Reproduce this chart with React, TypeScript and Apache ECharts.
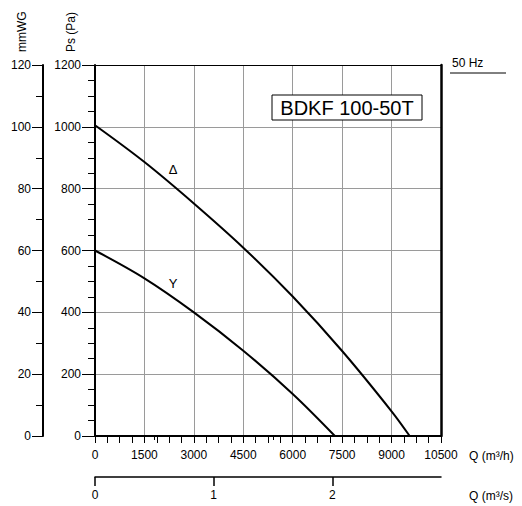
import React, { useEffect, useRef } from "react";
import * as echarts from "echarts";

// Δ (delta) connection curve: Q (m³/h) vs Ps (Pa)
const deltaQ = [0, 1500, 3000, 4500, 6000, 7500, 9000, 9550];
const deltaPs = [1005, 886, 752, 609, 451, 275, 80, 0];
// Y (star) connection curve
const starQ = [0, 1500, 3000, 4500, 6000, 7280];
const starPs = [600, 510, 400, 276, 136, 0];

// Secondary axis (m³/s) tick values
const qsMajor = [0, 1, 2];
const qsMinor = [0.5, 1.5, 2.5];

const FONT = "'Liberation Sans', Arial, Helvetica, sans-serif";

export default function App() {
  const ref = useRef<HTMLDivElement>(null);
  useEffect(() => {
    if (!ref.current) return;
    const chart = echarts.init(ref.current, undefined, { renderer: "svg" });
    const black = "#000";
    const grid = "#9a9a9a";
    const plain = (v: number) => String(v);
    const lbl = { color: black, fontSize: 12, fontFamily: FONT, formatter: plain };
    const option: any = {
      animation: false,
      backgroundColor: "#fff",
      grid: { left: 95, right: 81, top: 65, bottom: 70 },
      xAxis: [
        {
          type: "value",
          min: 0,
          max: 10500,
          interval: 1500,
          position: "bottom",
          axisLine: { show: true, onZero: false, lineStyle: { color: black, width: 2 } },
          axisTick: { show: true, length: 7, lineStyle: { color: black, width: 1 } },
          minorTick: { show: true, splitNumber: 4, length: 7, lineStyle: { color: black, width: 1 } },
          axisLabel: { ...lbl, margin: 13 },
          splitLine: { show: true, lineStyle: { color: grid, width: 1 } },
          minorSplitLine: { show: false },
        },
        {
          type: "value",
          min: 0,
          max: 10500 / 3600,
          position: "bottom",
          offset: 41,
          axisLine: { show: true, onZero: false, lineStyle: { color: black, width: 1.5 } },
          axisTick: { show: true, customValues: qsMajor, length: 9, lineStyle: { color: black, width: 1.5 } },
          axisLabel: { ...lbl, customValues: qsMajor, margin: 12 },
          splitLine: { show: false },
        },
        {
          type: "value",
          min: 0,
          max: 10500 / 3600,
          position: "bottom",
          offset: 41,
          axisLine: { show: false },
          axisTick: { show: true, customValues: qsMinor, length: 4, lineStyle: { color: black, width: 1 } },
          axisLabel: { show: false },
          splitLine: { show: false },
        },
        {
          type: "value",
          min: 0,
          max: 10500,
          position: "top",
          axisLine: { show: true, onZero: false, lineStyle: { color: black, width: 1 } },
          axisTick: { show: false },
          axisLabel: { show: false },
          splitLine: { show: false },
        },
      ],
      yAxis: [
        {
          type: "value",
          min: 0,
          max: 1200,
          interval: 200,
          position: "left",
          axisLine: { show: true, onZero: false, lineStyle: { color: black, width: 2 } },
          axisTick: { show: true, length: 13, lineStyle: { color: black, width: 1 } },
          minorTick: { show: true, splitNumber: 4, length: 7, lineStyle: { color: black, width: 1 } },
          axisLabel: { ...lbl, margin: 14 },
          splitLine: { show: true, lineStyle: { color: grid, width: 1 } },
          minorSplitLine: { show: false },
        },
        {
          type: "value",
          min: 0,
          max: 120,
          interval: 20,
          position: "left",
          offset: 52,
          axisLine: { show: true, onZero: false, lineStyle: { color: black, width: 2 } },
          axisTick: { show: true, length: 11, lineStyle: { color: black, width: 1 } },
          minorTick: { show: true, splitNumber: 2, length: 7, lineStyle: { color: black, width: 1 } },
          axisLabel: { ...lbl, margin: 12 },
          splitLine: { show: false },
        },
        {
          type: "value",
          min: 0,
          max: 1200,
          position: "right",
          axisLine: { show: true, onZero: false, lineStyle: { color: black, width: 2.5 } },
          axisTick: { show: false },
          axisLabel: { show: false },
          splitLine: { show: false },
        },
      ],
      series: [
        {
          type: "line",
          xAxisIndex: 0,
          yAxisIndex: 0,
          data: deltaQ.map((q, i) => [q, deltaPs[i]]),
          smooth: 0.35,
          symbol: "none",
          lineStyle: { color: black, width: 2 },
          z: 5,
        },
        {
          type: "line",
          xAxisIndex: 0,
          yAxisIndex: 0,
          data: starQ.map((q, i) => [q, starPs[i]]),
          smooth: 0.35,
          symbol: "none",
          lineStyle: { color: black, width: 2 },
          z: 5,
        },
      ],
      graphic: [
        {
          type: "text",
          x: 22,
          y: 52,
          rotation: Math.PI / 2,
          z: 100,
          style: { text: "mmWG", fill: black, font: `12px ${FONT}`, textAlign: "left", textVerticalAlign: "middle" },
        },
        {
          type: "text",
          x: 71,
          y: 52,
          rotation: Math.PI / 2,
          z: 100,
          style: { text: "Ps (Pa)", fill: black, font: `12px ${FONT}`, textAlign: "left", textVerticalAlign: "middle" },
        },
        {
          type: "text",
          x: 452,
          y: 63,
          z: 100,
          style: { text: "50 Hz", fill: black, font: `12px ${FONT}`, textAlign: "left", textVerticalAlign: "middle" },
        },
        {
          type: "line",
          z: 100,
          shape: { x1: 450, y1: 73, x2: 506, y2: 73 },
          style: { stroke: black, lineWidth: 1 },
        },
        {
          type: "rect",
          z: 100,
          shape: { x: 272, y: 95, width: 150, height: 25 },
          style: { fill: "#fff", stroke: black, lineWidth: 1 },
        },
        {
          type: "text",
          x: 347,
          y: 108,
          z: 101,
          style: { text: "BDKF 100-50T", fill: black, font: `20px ${FONT}`, textAlign: "center", textVerticalAlign: "middle" },
        },
        {
          type: "text",
          x: 173,
          y: 169,
          z: 100,
          style: { text: "Δ", fill: black, font: `13px ${FONT}`, textAlign: "center", textVerticalAlign: "middle" },
        },
        {
          type: "text",
          x: 173,
          y: 283,
          z: 100,
          style: { text: "Y", fill: black, font: `13px ${FONT}`, textAlign: "center", textVerticalAlign: "middle" },
        },
        {
          type: "text",
          x: 469,
          y: 456,
          z: 100,
          style: { text: "Q (m³/h)", fill: black, font: `12px ${FONT}`, textAlign: "left", textVerticalAlign: "middle" },
        },
        {
          type: "text",
          x: 469,
          y: 496,
          z: 100,
          style: { text: "Q (m³/s)", fill: black, font: `12px ${FONT}`, textAlign: "left", textVerticalAlign: "middle" },
        },
      ],
    };
    chart.setOption(option);
    return () => chart.dispose();
  }, []);
  return (
    <div
      ref={ref}
      style={{ position: "fixed", left: 0, top: 0, width: 522, height: 506, background: "#fff" }}
    />
  );
}
